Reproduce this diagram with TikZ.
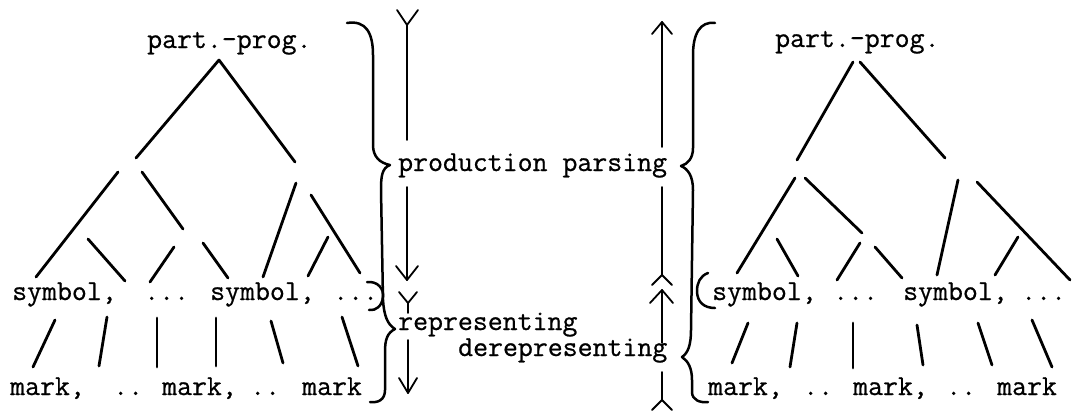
\documentclass[tikz,border=0pt]{standalone}
\usepackage{fontspec}
\newfontfamily\tw[FakeBold=0.7]{Latin Modern Mono}
\begin{document}
\begin{tikzpicture}[x=1pt,y=-1pt,
  txt/.style={font=\tw\fontsize{29}{30}\selectfont, inner sep=0pt, anchor=base west},
  tree/.style={line width=2.8pt, line cap=round},
  brc/.style={line width=2.5pt, line cap=round, line join=round},
  arr/.style={line width=1.8pt, line cap=round, line join=round}]
\useasboundingbox (0,0) rectangle (1076,410);

% ---------- left tree texts ----------
\node[txt] (lroot) at (147,48) {part.–prog.};
\node[txt] (ls1) at (12,300) {symbol,};
\node[txt] (ld1) at (144,300) {...};
\node[txt] (ls2) at (210,300) {symbol,};
\node[txt] (ld2) at (333,300) {...};
\node[txt] (lm1) at (10,395) {mark,};
\node[txt] (lm2) at (113,395) {..};
\node[txt] (lm3) at (162,395) {mark,};
\node[txt] (lm4) at (250,395) {..};
\node[txt] (lm5) at (302,395) {mark};

% ---------- right tree texts ----------
\node[txt] (rroot) at (775,47) {part.–prog.};
\node[txt] (rs1) at (712,300) {symbol,};
\node[txt] (rd1) at (833,300) {...};
\node[txt] (rs2) at (903,300) {symbol,};
\node[txt] (rd2) at (1021,300) {...};
\node[txt] (rm1) at (708,395) {mark,};
\node[txt] (rm2) at (803,395) {..};
\node[txt] (rm3) at (853,395) {mark,};
\node[txt] (rm4) at (946,395) {..};
\node[txt] (rm5) at (997,395) {mark};

% ---------- middle labels ----------
\node[txt] (prod) at (398,171) {production parsing};
\node[txt] (repr) at (398,330) {representing};
\node[txt] (derepr) at (458,356) {derepresenting};

% ---------- tree strokes ----------
\foreach \i/\ax/\ay/\bx/\by in {
  1/219/60/136/158, 2/219/60/295/162, 3/118/172/36/277, 4/142/172/183/229,
  5/88/239/125/281, 6/174/247/150/282, 7/203/243/228/278, 8/296/183/263/277,
  9/311/195/360/273, 10/328/237/308/276,
  11/55/320/33/367, 12/107/317/99/366, 13/157/318/157/367, 14/216/318/216/366,
  15/271/321/283/363, 16/342/317/358/366,
  17/853/62/797/160, 18/860/62/945/158, 19/795/178/737/273, 20/805/178/862/233,
  21/958/180/937/275, 22/977/182/1070/280, 23/777/239/798/276, 24/860/243/837/280,
  25/875/247/902/278, 26/1018/237/995/275,
  27/748/323/732/363, 28/797/323/790/367, 29/853/323/853/368, 30/917/325/923/365,
  31/978/323/992/365, 32/1032/320/1052/367}{
  \coordinate (t\i a) at (\ax,\ay);
  \coordinate (t\i b) at (\bx,\by);
  \draw[tree] (t\i a) -- (t\i b);
}

% ---------- left braces ----------
\draw[brc] (347,23) .. controls (366,20) and (373,33) .. (373,55)
  -- (373,145) .. controls (373,157) and (380,163) .. (390,165)
  .. controls (382,168) and (381,176) .. (381,190)
  -- (383,300) .. controls (384,315) and (387,324) .. (395,329)
  .. controls (387,333) and (385,340) .. (385,352)
  -- (385,390) .. controls (385,400) and (378,403) .. (370,402);
\draw[brc] (367,282) .. controls (378,281) and (384,289) .. (383,297)
  .. controls (382,306) and (376,311) .. (369,310);

% ---------- right braces ----------
\draw[brc] (715,23) .. controls (700,21) and (693,34) .. (693,55)
  -- (693,148) .. controls (693,158) and (688,164) .. (681,166)
  .. controls (688,169) and (693,176) .. (693,190)
  -- (691,330) .. controls (691,345) and (688,353) .. (682,357)
  .. controls (688,361) and (692,368) .. (692,380)
  -- (692,392) .. controls (692,400) and (700,403) .. (708,402);
\draw[brc] (708,273) .. controls (700,276) and (697,283) .. (697,291)
  .. controls (697,302) and (704,308) .. (715,308);

% ---------- left (downward) arrows ----------
\coordinate (d1s) at (407,25);  \coordinate (d1e) at (407,140);
\coordinate (d2s) at (407,187); \coordinate (d2e) at (407,280);
\coordinate (d3s) at (408,303); \coordinate (d3e) at (408,313);
\coordinate (d4s) at (408,340); \coordinate (d4e) at (408,393);
\draw[arr] (d1s) -- (d1e);
\draw[arr] ([shift={(-10,-15)}]d1s) -- (d1s) -- ([shift={(11,-15)}]d1s);
\draw[arr] (d2s) -- (d2e);
\draw[arr] ([shift={(-11,-14)}]d2e) -- (d2e) -- ([shift={(11,-14)}]d2e);
\draw[arr] (d3s) -- (d3e);
\draw[arr] ([shift={(-9,-11)}]d3s) -- (d3s) -- ([shift={(9,-11)}]d3s);
\draw[arr] (d4s) -- (d4e);
\draw[arr] ([shift={(-9,-15)}]d4e) -- (d4e) -- ([shift={(9,-15)}]d4e);

% ---------- right (upward) arrows ----------
\coordinate (u1s) at (662,147); \coordinate (u1e) at (662,22);
\coordinate (u2s) at (662,275); \coordinate (u2e) at (662,187);
\coordinate (u3s) at (662,343); \coordinate (u3e) at (662,290);
\coordinate (u4s) at (662,400); \coordinate (u4e) at (662,372);
\draw[arr] (u1s) -- (u1e);
\draw[arr] ([shift={(-10,12)}]u1e) -- (u1e) -- ([shift={(10,12)}]u1e);
\draw[arr] (u2s) -- (u2e);
\draw[arr] ([shift={(-10,10)}]u2s) -- (u2s) -- ([shift={(10,10)}]u2s);
\draw[arr] (u3s) -- (u3e);
\draw[arr] ([shift={(-12,13)}]u3e) -- (u3e) -- ([shift={(11,13)}]u3e);
\draw[arr] (u4s) -- (u4e);
\draw[arr] ([shift={(-10,10)}]u4s) -- (u4s) -- ([shift={(10,10)}]u4s);
\end{tikzpicture}
\end{document}
